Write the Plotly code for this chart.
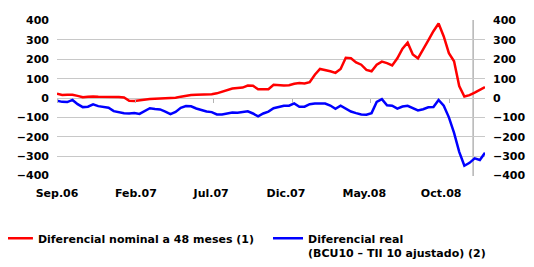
import pandas as pd
import plotly.graph_objects as go

# sampling grid (every 10 days from 1 Sep 2006)
dates = pd.date_range("2006-09-01", periods=84, freq="10D")

nominal_48m = [22, 16, 17, 17, 11, 4, 6, 8, 6, 6,
               7, 6, 5, 3, -14, -16, -12, -9, -5, -4,
               -3, -3, -3, 1, 7, 12, 15, 17, 17, 17,
               19, 24, 32, 40, 49, 52, 54, 64, 63, 45,
               45, 45, 68, 66, 65, 66, 74, 77, 75, 82,
               120, 150, 142, 138, 130, 150, 208, 205, 184, 172,
               145, 138, 172, 188, 180, 168, 205, 255, 286, 225,
               205, 255, 298, 345, 385, 318, 232, 190, 62, 8,
               15, 28, 40, 56]

real_bcu10 = [-14, -20, -21, -10, -32, -47, -45, -33, -42, -45,
              -50, -68, -74, -79, -80, -78, -82, -67, -53, -57,
              -59, -70, -83, -72, -51, -42, -43, -54, -64, -70,
              -73, -85, -85, -81, -75, -76, -74, -69, -80, -95,
              -80, -70, -53, -45, -40, -40, -28, -45, -45, -32,
              -28, -28, -29, -39, -56, -40, -55, -70, -78, -85,
              -86, -78, -20, -6, -38, -40, -55, -44, -40, -54,
              -64, -58, -48, -47, -10, -40, -100, -180, -278, -350,
              -335, -312, -320, -283]

tick_dates = ["2006-09-01", "2007-02-01", "2007-06-27", "2007-11-19", "2008-04-19", "2008-09-15"]
tick_labels = ["Sep.06", "Feb.07", "Jul.07", "Dic.07", "May.08", "Oct.08"]
month_marks = ["2006-09-01", "2007-02-01", "2007-07-01", "2007-12-01", "2008-05-01", "2008-10-01"]
y_ticks = [400, 300, 200, 100, 0, -100, -200, -300, -400]
y_labels = ["400", "300", "200", "100", "0", "\u2212100", "\u2212200", "\u2212300", "\u2212400"]
marker_date = "2008-11-16"
x_range = ["2006-09-01", "2008-12-09"]
y_range = [-403, 403]

FONT = "DejaVu Sans"
TFONT = dict(family=FONT, size=11, color="black", weight="bold")

fig = go.Figure()
fig.add_trace(go.Scatter(x=dates, y=nominal_48m, mode="lines",
                         line=dict(color="#ff0000", width=2.5),
                         name="Diferencial nominal a 48 meses (1)", legend="legend"))
fig.add_trace(go.Scatter(x=dates, y=real_bcu10, mode="lines",
                         line=dict(color="#0000ff", width=2.5),
                         name="Diferencial real<br>(BCU10 \u2013 TII 10 ajustado) (2)",
                         legend="legend2"))
# invisible copies so the mirrored right scale and the zero-line month ticks are drawn
fig.add_trace(go.Scatter(x=dates, y=real_bcu10, mode="lines", yaxis="y2",
                         line=dict(color="rgba(0,0,0,0)", width=0),
                         showlegend=False, hoverinfo="skip"))
fig.add_trace(go.Scatter(x=dates, y=real_bcu10, mode="lines", xaxis="x2",
                         line=dict(color="rgba(0,0,0,0)", width=0),
                         showlegend=False, hoverinfo="skip"))

fig.add_shape(type="line", xref="x", yref="paper", x0=marker_date, x1=marker_date,
              y0=0, y1=1, line=dict(color="#b4b4b4", width=1.5), layer="below")

leg_common = dict(xanchor="left", yanchor="top", valign="top", font=TFONT,
                  bgcolor="rgba(0,0,0,0)")

# page body has an 8px default margin, so the figure is 8px smaller than the window
fig.update_layout(
    width=526, height=259,
    margin=dict(l=49, r=49, t=12, b=91, autoexpand=False),
    paper_bgcolor="white", plot_bgcolor="white",
    font=TFONT,
    showlegend=True,
    legend=dict(x=-0.138, y=-0.312, **leg_common),
    legend2=dict(x=0.493, y=-0.312, **leg_common),
    xaxis=dict(type="date", range=x_range, tickvals=tick_dates, ticktext=tick_labels,
               showgrid=False, zeroline=False, showline=False, ticks="",
               ticklabelstandoff=9, tickfont=TFONT),
    xaxis2=dict(type="date", range=x_range, overlaying="x", anchor="free", position=0.5,
                side="bottom", tickvals=month_marks, ticks="outside", ticklen=4,
                tickwidth=1, tickcolor="#b4b4b4", showticklabels=False,
                showgrid=False, zeroline=False, showline=False),
    yaxis=dict(range=y_range, tickvals=y_ticks, ticktext=y_labels,
               showgrid=True, gridcolor="#c8c8c8", gridwidth=1,
               zeroline=False, showline=False, ticks="", ticklabelstandoff=7,
               tickfont=TFONT),
    yaxis2=dict(range=y_range, tickvals=y_ticks, ticktext=y_labels, overlaying="y",
                side="right", showgrid=False, zeroline=False, showline=False, ticks="",
                ticklabelstandoff=7, tickfont=TFONT),
)

fig.write_html("out.html")
